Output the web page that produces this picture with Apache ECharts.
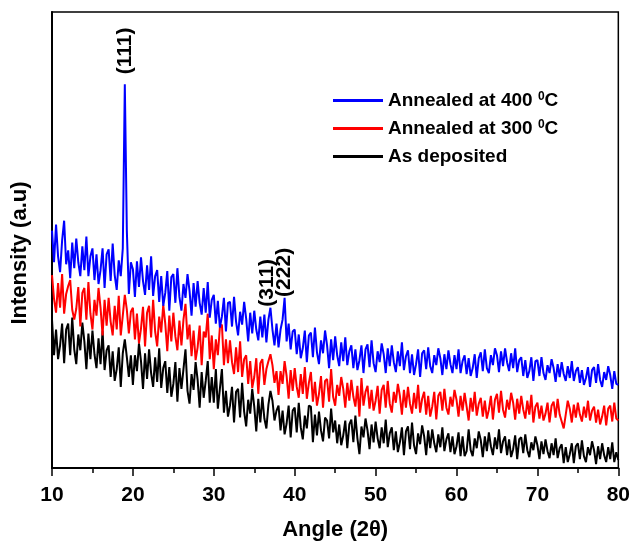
<!DOCTYPE html>
<html><head><meta charset="utf-8">
<script src="https://cdn.jsdelivr.net/npm/echarts@6/dist/echarts.min.js"></script>
<style>html,body{margin:0;padding:0;background:#fff}#c{width:633px;height:546px}</style>
</head><body><div id="c"></div>
<script>
// Sampling grid of the scan (2θ, degrees)
const angleStart = 10, angleStep = 0.25, angleEnd = 80;
const xTicks = [10, 20, 30, 40, 50, 60, 70, 80];
const seriesNames = ['Annealed at 400 \u2070C', 'Annealed at 300 \u2070C', 'As deposited'];

// Intensities (a.u.), one value per 0.25° from 10° to 80°
const annealed400 = [
240,208,246,214, 198,230,250,206, 220,192,228,202, 232,208,194,224, 200,234,194,214,
222,190,216,186, 200,222,182,216, 221,189,227,195, 180,210,194,222, 388,240,176,208,
201,173,209,183, 213,189,175,205, 180,214,174,194, 200,168,194,164, 177,199,159,193,
196,167,202,173, 159,186,172,196, 179,154,187,163, 189,167,155,182, 157,188,152,170,
175,146,169,142, 153,172,138,167, 168,143,173,148, 134,158,145,168, 151,128,157,136,
159,140,129,153, 132,155,127,150, 162,140,124,146, 122,140,150,172, 128,146,120,138,
140,115,135,111, 121,139,107,134, 137,112,142,117, 105,129,116,139, 124,101,130,109,
133,114,103,127, 108,132,104,118, 124,101,120,99, 109,124,96,120, 125,102,129,106,
97,118,107,126, 115,96,121,103, 124,107,97,118, 103,127,99,113, 119,96,115,94,
105,120,92,116, 119,100,122,103, 96,114,104,121, 111,94,115,100, 119,105,96,114,
100,120,96,108, 114,95,111,93, 101,115,91,111, 117,98,120,101, 96,114,104,121,
114,97,118,103, 121,107,98,116, 101,121,97,109, 112,93,109,91, 98,112,88,108,
109,93,112,96, 89,104,96,110, 101,87,105,92, 107,95,88,103, 91,108,88,98,
102,86,99,84, 91,102,82,99, 102,86,105,89, 82,97,89,103, 94,80,98,85, 84];

const annealed300 = [
195,171,157,187, 162,196,156,176, 184,190,160,150, 161,183,143,177, 182,150,188,156,
140,170,154,182, 162,134,170,144, 172,148,134,164, 140,174,134,154, 175,160,136,158,
162,130,156,126, 141,163,123,157, 164,132,170,138, 123,153,137,165, 146,118,154,128,
157,133,119,149, 124,150,166,130, 145,113,139,109, 122,144,104,138, 132,156,110,134,
100,130,114,142, 145,104,130,106, 129,107,95,122, 97,128,92,110, 114,85,108,81,
92,111,75,106, 110,84,100,108, 115,104,86,98, 74,98,85,108, 93,70,99,78,
101,82,71,95, 75,102,70,86, 97,67,87,63, 75,93,61,88, 90,67,100,72,
63,84,73,92, 80,61,86,68, 89,72,62,83, 52,91,63,77, 83,60,79,58,
68,83,55,79, 84,61,88,65, 56,77,66,85, 73,54,79,61, 82,65,55,76,
60,84,56,70, 77,54,73,52, 62,77,49,73, 77,58,80,61, 54,72,62,79,
69,52,73,58, 76,62,48,71, 57,77,53,65, 71,52,68,50, 59,73,49,69,
75,56,78,59, 51,69,59,76, 66,49,70,55, 73,59,50,68, 54,74,46,62,
66,50,63,48, 55,66,46,63, 67,51,70,54, 47,40,54,68, 60,46,64,51,
66,54,47,62, 51,68,48,58, 62,46,59,44, 52,63,43,60, 63,47,66,50, 48];

const asDeposited = [
150,114,140,110, 124,146,106,140, 146,114,152,120, 105,135,119,147, 128,100,136,110,
139,115,101,131, 105,139,99,119, 124,92,118,88, 100,122,82,116, 130,112,92,114,
84,114,98,126, 108,80,116,90, 120,96,82,112, 87,121,81,101, 108,76,102,72,
85,107,67,101, 80,100,120,78, 65,95,79,107, 89,61,97,71, 88,108,66,92,
66,100,60,80, 100,56,78,52, 63,82,46,77, 80,51,86,57, 42,69,55,80,
62,37,70,46, 72,50,40,64, 78,68,48,58, 63,38,58,34, 45,63,31,58,
61,36,66,41, 29,53,40,63, 62,26,54,33, 57,38,27,51, 48,30,60,36,
48,25,44,23, 33,48,20,44, 49,26,53,30, 14,42,31,50, 38,19,44,26,
47,30,20,41, 25,49,21,35, 41,18,37,16, 26,41,13,37, 42,19,46,23,
14,35,24,43, 32,13,38,20, 39,25,16,34, 21,41,17,29, 35,16,32,14,
22,36,12,32, 12,17,39,18, 12,30,20,37, 28,11,32,17, 36,22,13,31,
19,39,15,27, 32,13,29,11, 19,33,9,29, 31,15,34,18, 11,26,18,32,
23,9,27,14, 29,17,10,25, 13,30,10,20, 24,5,21,6, 14,25,5,22,
25,9,28,12, 6,21,13,27, 18,4,22,9, 25,13,6,21, 9,26,6,16, 8];

// Peak annotations: label, angle, intensity anchor (bottom of label)
const peakLabels = ['(111)', '(311)', '(222)'];
const peakAngles = [19.05, 36.6, 38.7];
const peakLevels = [398, 163, 173];

const colors = ['#0000ff', '#ff0000', '#000000'];
const dataSets = [annealed400, annealed300, asDeposited];

function pairs(arr) {
  return arr.map((v, i) => [angleStart + i * angleStep, v]);
}

const chart = echarts.init(document.getElementById('c'));
const font = 'Arial, "Liberation Sans", sans-serif';
chart.setOption({
  animation: false,
  grid: { left: 52, right: 11, top: 12, bottom: 72, show: true, borderColor: '#000', borderWidth: 1.5 },
  legend: {
    orient: 'vertical', left: 333, top: 91, padding: 0, itemWidth: 50, itemHeight: 3, itemGap: 8,
    icon: 'rect',
    data: seriesNames,
    formatter: function (n) {
      return n.replace(' \u2070C', ' {sup|0}C');
    },
    textStyle: {
      fontFamily: font, fontWeight: 'bold', fontSize: 19, lineHeight: 19, color: '#000', padding: [0, 0, 0, 0],
      rich: { sup: { fontFamily: font, fontWeight: 'bold', fontSize: 12, lineHeight: 19, color: '#000', verticalAlign: 'top', padding: [0, 0, 8, 0] } }
    }
  },
  xAxis: {
    type: 'value', min: angleStart, max: angleEnd, interval: 10,
    name: 'Angle (2\u03b8)', nameLocation: 'middle', nameGap: 51,
    nameTextStyle: { fontFamily: font, fontWeight: 'bold', fontSize: 22, color: '#000' },
    axisLine: { lineStyle: { color: '#000', width: 2 } },
    axisTick: { length: 8, lineStyle: { color: '#000', width: 1.5 } },
    minorTick: { show: true, splitNumber: 2, length: 5, lineStyle: { color: '#000', width: 1.5 } },
    splitLine: { show: false },
    axisLabel: { fontFamily: font, fontWeight: 'bold', fontSize: 21, color: '#000', margin: 17 }
  },
  yAxis: {
    type: 'value', min: 0, max: 461,
    name: 'Intensity (a.u)', nameLocation: 'middle', nameGap: 21,
    nameTextStyle: { fontFamily: font, fontWeight: 'bold', fontSize: 22, color: '#000', padding: [0, 26, 0, 0] },
    axisLine: { show: true, lineStyle: { color: '#000', width: 2 } },
    axisTick: { show: false }, axisLabel: { show: false }, splitLine: { show: false }
  },
  series: dataSets.map((d, i) => ({
    name: seriesNames[i], type: 'line', data: pairs(d), showSymbol: false, symbol: 'none',
    lineStyle: { color: colors[i], width: 2 }, itemStyle: { color: colors[i] }, z: 3 - i
  }))
});

const graphics = peakLabels.map((t, i) => {
  const p = chart.convertToPixel({ gridIndex: 0 }, [peakAngles[i], peakLevels[i]]);
  return {
    type: 'text', x: p[0], y: p[1], rotation: Math.PI / 2,
    style: { text: t, fontFamily: font, fontWeight: 'bold', fontSize: 21, fill: '#000',
             align: 'left', verticalAlign: 'middle' }
  };
});
chart.setOption({ graphic: graphics });
</script></body></html>
